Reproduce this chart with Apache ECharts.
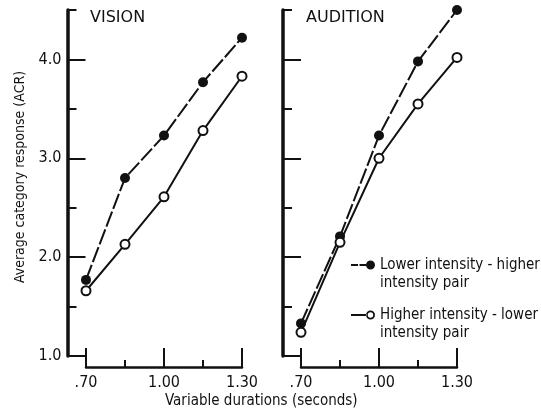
<!DOCTYPE html>
<html>
<head>
<meta charset="utf-8">
<style>
  html, body { margin: 0; padding: 0; background: #fff; }
  #chart { width: 541px; height: 413px; }
</style>
<script src="https://cdn.jsdelivr.net/npm/echarts@6/dist/echarts.min.js"></script>
</head>
<body>
<div id="chart"></div>
<script>
// ---- data ----
const durations = [0.70, 0.85, 1.00, 1.15, 1.30];
const visionLowHigh = [1.77, 2.80, 3.23, 3.77, 4.22];
const visionHighLow = [1.66, 2.13, 2.61, 3.28, 3.83];
const auditionLowHigh = [1.33, 2.21, 3.23, 3.98, 4.50];
const auditionHighLow = [1.24, 2.15, 3.00, 3.55, 4.02];
const xMajorTicks = [0.70, 1.00, 1.30];
const xMinorTicks = [0.85, 1.15];
const yMajorTicks = [1, 2, 3, 4];
const panelTitles = ['VISION', 'AUDITION'];
const seriesNames = ['Lower intensity - higher\nintensity pair', 'Higher intensity - lower\nintensity pair'];
const xTitle = 'Variable durations (seconds)';
const yTitle = 'Average category response (ACR)';

const INK = '#111';
const FONT = '"DejaVu Sans Condensed", "DejaVu Sans", sans-serif';

function pairs(xs, ys) { return xs.map((x, i) => [x, ys[i]]); }
function fmtX(v) { return v < 1 ? ('.' + Math.round(v * 100)) : v.toFixed(2); }

const grids = [
  { left: 86, width: 156, top: 10, height: 346 },
  { left: 301, width: 156, top: 10, height: 346 }
];

const xAxes = [];
const yAxes = [];
grids.forEach((g, gi) => {
  // major ticks + labels
  xAxes.push({
    type: 'value', gridIndex: gi, min: 0.7, max: 1.3, position: 'bottom', offset: 11,
    axisLine: { show: true, lineStyle: { color: INK, width: 2.5 } },
    axisTick: { show: true, inside: true, length: 19, customValues: xMajorTicks, lineStyle: { color: INK, width: 2 } },
    axisLabel: { show: true, customValues: xMajorTicks, formatter: fmtX, margin: 8, color: INK, fontSize: 16, fontFamily: FONT },
    splitLine: { show: false }
  });
  // minor ticks
  xAxes.push({
    type: 'value', gridIndex: gi, min: 0.7, max: 1.3, position: 'bottom', offset: 11,
    axisLine: { show: false },
    axisTick: { show: true, inside: true, length: 7, customValues: xMinorTicks, lineStyle: { color: INK, width: 2 } },
    axisLabel: { show: false },
    splitLine: { show: false }
  });
  const yOff = gi === 0 ? 18.5 : 18;
  // axis line + half-unit short ticks
  yAxes.push({
    type: 'value', gridIndex: gi, min: 1, max: 4.5, interval: 0.5, position: 'left', offset: yOff,
    axisLine: { show: true, lineStyle: { color: INK, width: 3.5 } },
    axisTick: { show: true, inside: true, length: 9, lineStyle: { color: INK, width: 2 } },
    axisLabel: { show: false },
    splitLine: { show: false }
  });
  // unit long ticks + labels
  yAxes.push({
    type: 'value', gridIndex: gi, min: 1, max: 4.5, position: 'left', offset: yOff,
    axisLine: { show: false },
    axisTick: { show: true, inside: true, length: 18, customValues: yMajorTicks, lineStyle: { color: INK, width: 2 } },
    axisLabel: { show: gi === 0, customValues: yMajorTicks, formatter: v => v.toFixed(1), margin: 6, color: INK, fontSize: 16, fontFamily: FONT },
    splitLine: { show: false },
    name: gi === 0 ? yTitle : '',
    nameLocation: 'middle',
    nameGap: 40,
    nameTextStyle: { color: INK, fontSize: 14, fontFamily: FONT, padding: [0, 0, 0, 12] }
  });
});

function lowHighSeries(gi, ys) {
  return {
    name: seriesNames[0], type: 'line', xAxisIndex: gi * 2, yAxisIndex: gi * 2, clip: false,
    data: pairs(durations, ys),
    symbol: 'circle', symbolSize: 10,
    itemStyle: { color: INK },
    lineStyle: { color: INK, width: 2, type: [16, 3] },
    emphasis: { disabled: true }
  };
}
function highLowSeries(gi, ys) {
  return {
    name: seriesNames[1], type: 'line', xAxisIndex: gi * 2, yAxisIndex: gi * 2, clip: false,
    data: pairs(durations, ys),
    symbol: 'emptyCircle', symbolSize: 9,
    itemStyle: { color: INK, borderColor: INK, borderWidth: 2 },
    lineStyle: { color: INK, width: 2, type: 'solid' },
    emphasis: { disabled: true }
  };
}

const option = {
  backgroundColor: '#fff',
  animation: false,
  title: [
    { text: panelTitles[0], left: 90, top: 10, padding: 0, textStyle: { color: INK, fontSize: 16, fontWeight: 'normal', fontFamily: '"DejaVu Sans", sans-serif' } },
    { text: panelTitles[1], left: 306, top: 10, padding: 0, textStyle: { color: INK, fontSize: 16, fontWeight: 'normal', fontFamily: '"DejaVu Sans", sans-serif' } },
    { text: xTitle, left: 165, top: 394, padding: 0, textStyle: { color: INK, fontSize: 15, fontWeight: 'normal', fontFamily: FONT } }
  ],
  legend: {
    orient: 'vertical', left: 351, top: 238, padding: 0, itemGap: -4,
    itemWidth: 24, itemHeight: 9, selectedMode: false,
    itemStyle: { borderWidth: 0 },
    // a leading blank line puts the key symbol level with the first text line
    formatter: name => '\n' + name,
    textStyle: { color: INK, fontSize: 15, fontFamily: FONT, lineHeight: 18 },
    data: [
      { name: seriesNames[0], icon: 'path://M0,3.6h7v1.8h-7z M8.5,3.6h6.5v1.8h-6.5z M15,4.5a4.5,4.5 0 1,0 9,0a4.5,4.5 0 1,0 -9,0z' },
      { name: seriesNames[1], icon: 'path://M0,3.6h15.5v1.8h-15.5z M15,4.5a4.5,4.5 0 1,0 9,0a4.5,4.5 0 1,0 -9,0z M16.8,4.5a2.7,2.7 0 1,1 5.4,0a2.7,2.7 0 1,1 -5.4,0z' }
    ]
  },
  grid: grids,
  xAxis: xAxes,
  yAxis: yAxes,
  series: [
    lowHighSeries(0, visionLowHigh),
    highLowSeries(0, visionHighLow),
    lowHighSeries(1, auditionLowHigh),
    highLowSeries(1, auditionHighLow)
  ]
};

const chart = echarts.init(document.getElementById('chart'), null, { renderer: 'canvas' });
chart.setOption(option);
</script>
</body>
</html>
